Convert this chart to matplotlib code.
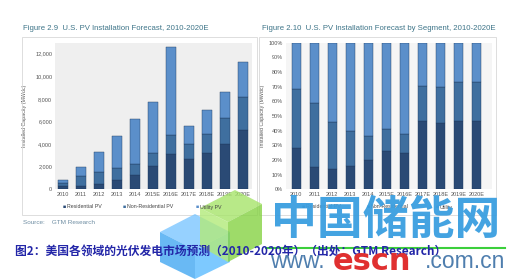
import numpy as np
import matplotlib
matplotlib.use("Agg")
import matplotlib.pyplot as plt
from matplotlib.patches import Rectangle, Polygon
from matplotlib.lines import Line2D

# data (MWdc)
years = ["2010", "2011", "2012", "2013", "2014", "2015E", "2016E",
         "2017E", "2018E", "2019E", "2020E"]
residential = [235, 290, 450, 760, 1230, 2000, 3100, 2630, 3180, 4000, 5200]
non_residential = [335, 850, 1080, 1130, 1020, 1150, 1690, 1330, 1730, 2300, 3000]
utility = [260, 790, 1790, 2840, 3930, 4540, 7840, 1660, 2100, 2310, 3040]
series_names = ["Residential PV", "Non-Residential PV", "Utility PV"]
series_names_right = ["Residential PV", "Non-Residential", "Utility"]
left_ticks = [0, 2000, 4000, 6000, 8000, 10000, 12000]
right_ticks = [0, 0.1, 0.2, 0.3, 0.4, 0.5, 0.6, 0.7, 0.8, 0.9, 1.0]

colors = ["#2a4a75", "#3f6f9f", "#5b8fca"]
title_col = "#3d7488"
tick_col = "#555555"
W, H = 510, 279
narrow = ['Liberation Sans Narrow', 'Liberation Sans', 'DejaVu Sans']

plt.rcParams['font.family'] = ['Liberation Sans', 'DejaVu Sans']
fig = plt.figure(figsize=(W / 100, H / 100), dpi=100)
fig.patch.set_facecolor("white")


def fx(x):
    return x / W


def fy(y):
    return 1 - y / H


def px_axes(x0, y0, x1, y1):
    return fig.add_axes([fx(x0), fy(y1), fx(x1) - fx(x0), (y1 - y0) / H])


# panel frames
for x0, x1 in [(22, 257), (259, 496)]:
    fig.patches.append(Rectangle((fx(x0), fy(215)), fx(x1) - fx(x0), (215 - 37) / H,
                                 transform=fig.transFigure, fill=False,
                                 edgecolor="#d8d8d8", lw=0.6))

data = np.array([residential, non_residential, utility], dtype=float)
x = np.arange(len(years))

# left: absolute stacked bars
ax1 = px_axes(55, 43, 252, 189)
ax1.set_facecolor("#efefef")
bottom = np.zeros(len(years))
for vals, c in zip(data, colors):
    ax1.bar(x, vals, 0.54, bottom=bottom, color=c, edgecolor="#1f3a5e", lw=0.3)
    bottom += vals
ax1.set_xlim(-0.44, 10.5)
ax1.set_ylim(0, 12950)
ax1.set_yticks(left_ticks)
ax1.set_yticklabels(["{:,}".format(v) for v in left_ticks])
ax1.set_ylabel("Installed Capacity (MWdc)", fontsize=3.8, color=tick_col, labelpad=6)

# right: share stacked bars
ax2 = px_axes(286, 42.7, 492, 189.3)
ax2.set_facecolor("#f5f5f5")
share = data / data.sum(axis=0)
bottom = np.zeros(len(years))
for vals, c in zip(share, colors):
    ax2.bar(x, vals, 0.52, bottom=bottom, color=c, edgecolor="#1f3a5e", lw=0.3)
    bottom += vals
ax2.set_xlim(-0.57, 10.87)
ax2.set_ylim(0, 1)
ax2.set_yticks(right_ticks)
ax2.set_yticklabels(["{:.0%}".format(v) for v in right_ticks])
ax2.set_ylabel("Installed Capacity (MWdc)", fontsize=3.8, color=tick_col, labelpad=3)

for ax in (ax1, ax2):
    ax.set_xticks(x)
    ax.set_xticklabels(years, family=narrow)
    ax.tick_params(length=0, labelsize=4, colors=tick_col, pad=2)
    for s in ax.spines.values():
        s.set_visible(False)

# titles
fig.text(fx(23), fy(29), "Figure 2.9  U.S. PV Installation Forecast, 2010-2020E",
         fontsize=5.6, color=title_col, va="center")
fig.text(fx(262), fy(29), "Figure 2.10  U.S. PV Installation Forecast by Segment, 2010-2020E",
         fontsize=5.6, color=title_col, va="center")

# legends
for names, xs in [(series_names, [63, 123, 196]), (series_names_right, [302, 367, 436])]:
    for name, c, xx in zip(names, colors, xs):
        fig.text(fx(xx), fy(207), "\u25a0", fontsize=3.8, color=c, va="center")
        fig.text(fx(xx + 4), fy(207), name, fontsize=3.8, color="#444444", va="center")

fig.text(fx(23), fy(223), "Source:    GTM Research", fontsize=4.6, color="#6f8ea3",
         va="center")

# caption
fig.text(fx(15), fy(251), "图2：美国各领域的光伏发电市场预测（2010-2020年）（出处：GTM Research）",
         fontsize=8.5, color="#2326a8", fontweight="bold", va="center",
         family=['Noto Sans CJK SC', 'DejaVu Sans'])

# watermark logo
logo = [
    ([(160, 232), (195, 214), (230, 232), (195, 250)], "#7cc6ff"),
    ([(160, 232), (195, 250), (195, 279), (160, 262)], "#44a8f2"),
    ([(195, 250), (230, 232), (230, 262), (195, 279)], "#5cbcff"),
    ([(200, 208), (235, 190), (262, 204), (228, 222)], "#a6e46a"),
    ([(228, 222), (262, 204), (262, 244), (228, 262)], "#86d244"),
    ([(200, 208), (228, 222), (228, 262), (200, 246)], "#b2ea7a"),
]
for pts, c in logo:
    fig.patches.append(Polygon([(fx(a), fy(b)) for a, b in pts], closed=True,
                               transform=fig.transFigure, facecolor=c,
                               edgecolor="none", alpha=0.8))

fig.text(fx(386), fy(221), "中国储能网", fontsize=33, color="#3a9ee0", alpha=0.95,
         fontweight="bold", ha="center", va="center",
         family=['Noto Sans CJK SC', 'DejaVu Sans'])
fig.lines.append(Line2D([fx(266), fx(505)], [fy(248), fy(248)], transform=fig.transFigure,
                        color="#3ccf3c", lw=1.5))
fig.text(fx(270), fy(262), "www.", fontsize=16.5, color="#4f7eae", va="center")
fig.text(fx(333), fy(261), "escn", fontsize=22, color="#e03030", va="center",
         family=['DejaVu Sans'], fontweight="bold")
fig.text(fx(425), fy(262), ".com.cn", fontsize=16.5, color="#4f7eae", va="center")

fig.savefig("out.png", dpi=100)
